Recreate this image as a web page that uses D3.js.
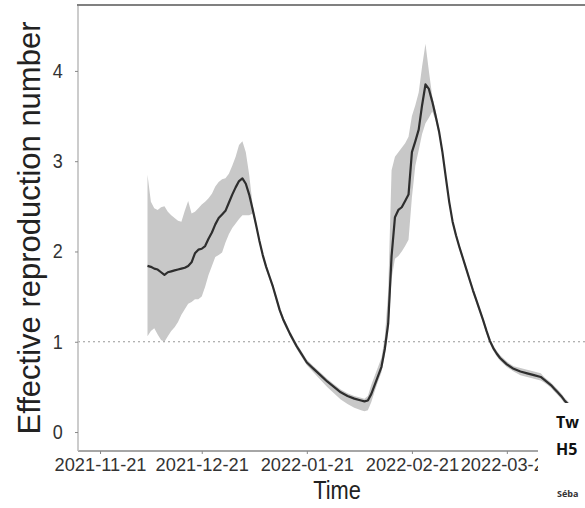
<!DOCTYPE html>
<html>
<head>
<meta charset="utf-8">
<script src="https://cdn.jsdelivr.net/npm/d3@7"></script>
<style>
  body { margin: 0; background: #fff; }
  svg { display: block; font-family: "Liberation Sans", Arial, sans-serif; }
</style>
</head>
<body>
<div id="chart"></div>
<script>

// Effective reproduction number over time
var dates = [
  "2021-12-05","2021-12-06","2021-12-07","2021-12-08","2021-12-09","2021-12-10","2021-12-11","2021-12-12",
  "2021-12-13","2021-12-14","2021-12-15","2021-12-16","2021-12-17","2021-12-18","2021-12-19","2021-12-20",
  "2021-12-21","2021-12-22","2021-12-23","2021-12-24","2021-12-25","2021-12-26","2021-12-27","2021-12-28",
  "2021-12-29","2021-12-30","2021-12-31","2022-01-01","2022-01-02","2022-01-03","2022-01-04","2022-01-05",
  "2022-01-06","2022-01-07","2022-01-08","2022-01-09","2022-01-10","2022-01-11","2022-01-12","2022-01-13",
  "2022-01-14","2022-01-15","2022-01-16","2022-01-17","2022-01-18","2022-01-19","2022-01-21","2022-01-23",
  "2022-01-25","2022-01-27","2022-01-29","2022-01-31","2022-02-02","2022-02-04","2022-02-06","2022-02-07",
  "2022-02-08","2022-02-09","2022-02-10","2022-02-11","2022-02-12","2022-02-13","2022-02-14","2022-02-15",
  "2022-02-16","2022-02-17","2022-02-18","2022-02-19","2022-02-20","2022-02-21","2022-02-22","2022-02-23",
  "2022-02-24","2022-02-25","2022-02-26","2022-02-27","2022-02-28","2022-03-01","2022-03-02","2022-03-03",
  "2022-03-04","2022-03-05","2022-03-06","2022-03-07","2022-03-08","2022-03-09","2022-03-10","2022-03-11",
  "2022-03-12","2022-03-13","2022-03-14","2022-03-15","2022-03-16","2022-03-17","2022-03-18","2022-03-19",
  "2022-03-21","2022-03-23","2022-03-25","2022-03-27","2022-03-29","2022-03-31","2022-04-01","2022-04-02",
  "2022-04-03","2022-04-04","2022-04-05","2022-04-06","2022-04-07","2022-04-08","2022-04-09","2022-04-10"
];

var rt = [
  1.84,1.83,1.81,1.80,1.77,1.74,1.77,1.78,
  1.79,1.80,1.81,1.82,1.84,1.88,1.98,2.02,
  2.03,2.06,2.14,2.21,2.30,2.37,2.41,2.45,
  2.54,2.63,2.71,2.78,2.81,2.75,2.63,2.47,
  2.30,2.12,1.96,1.83,1.72,1.61,1.48,1.35,
  1.25,1.17,1.09,1.02,0.95,0.89,0.77,0.70,
  0.63,0.56,0.50,0.44,0.40,0.37,0.35,0.34,
  0.35,0.42,0.52,0.62,0.72,0.92,1.20,1.95,
  2.38,2.46,2.49,2.56,2.63,3.10,3.22,3.35,
  3.62,3.85,3.80,3.66,3.50,3.33,3.10,2.82,
  2.55,2.33,2.18,2.05,1.93,1.81,1.69,1.57,
  1.46,1.35,1.24,1.12,1.01,0.93,0.87,0.82,
  0.75,0.70,0.67,0.65,0.63,0.61,0.58,0.55,
  0.52,0.48,0.44,0.40,0.35,0.31,0.27,0.23
];

var lower = [
  1.06,1.12,1.15,1.08,1.02,1.00,1.06,1.12,
  1.16,1.22,1.30,1.36,1.42,1.44,1.47,1.47,
  1.50,1.61,1.74,1.84,1.94,1.96,1.99,2.10,
  2.19,2.26,2.31,2.36,2.40,2.40,2.40,2.42,
  2.27,2.09,1.93,1.80,1.69,1.58,1.45,1.32,
  1.22,1.14,1.06,0.99,0.92,0.86,0.74,0.66,
  0.58,0.50,0.43,0.36,0.31,0.27,0.24,0.23,
  0.24,0.33,0.45,0.56,0.66,0.85,1.10,1.70,
  1.92,1.95,2.00,2.06,2.13,2.60,2.95,3.12,
  3.30,3.42,3.48,3.55,3.45,3.29,3.07,2.79,
  2.52,2.30,2.15,2.02,1.90,1.78,1.66,1.54,
  1.43,1.32,1.21,1.09,0.98,0.90,0.84,0.79,
  0.72,0.67,0.63,0.61,0.59,0.57,0.55,0.52,
  0.49,0.45,0.41,0.37,0.32,0.28,0.24,0.20
];

var upper = [
  2.85,2.55,2.48,2.46,2.49,2.50,2.44,2.40,
  2.37,2.34,2.33,2.45,2.56,2.42,2.44,2.48,
  2.52,2.55,2.59,2.64,2.72,2.77,2.80,2.81,
  2.86,2.95,3.05,3.18,3.22,3.10,2.85,2.52,
  2.33,2.15,1.99,1.86,1.75,1.64,1.51,1.38,
  1.28,1.20,1.12,1.05,0.98,0.92,0.80,0.73,
  0.66,0.59,0.53,0.47,0.43,0.40,0.38,0.37,
  0.40,0.52,0.62,0.72,0.82,1.05,1.55,2.90,
  3.05,3.10,3.15,3.20,3.27,3.50,3.62,3.76,
  4.05,4.30,4.00,3.72,3.56,3.37,3.13,2.85,
  2.58,2.36,2.21,2.08,1.96,1.84,1.72,1.60,
  1.49,1.38,1.27,1.15,1.04,0.96,0.90,0.85,
  0.78,0.73,0.71,0.69,0.67,0.65,0.61,0.58,
  0.55,0.51,0.47,0.43,0.38,0.34,0.30,0.26
];

// Axis ticks
var xTicks = ["2021-11-21", "2021-12-21", "2022-01-21", "2022-02-21", "2022-03-21"];
var yTicks = [0, 1, 2, 3, 4];

var width = 585, height = 508;
var parse = d3.utcParse("%Y-%m-%d");

var svg = d3.select("#chart").append("svg")
  .attr("width", width)
  .attr("height", height);

// Scales (one day is about 3.39 px in the picture)
var x = d3.scaleUtc()
  .domain([parse("2021-11-14"), parse("2022-04-15")])
  .range([78 - 0.5 * 3.39, 78 - 0.5 * 3.39 + 152 * 3.39]);

var y = d3.scaleLinear()
  .domain([-0.21, 4.73])
  .range([451, 5]);

var rows = dates.map(function (d, i) {
  return {date: parse(d), r: rt[i], lo: lower[i], hi: upper[i]};
});

// Confidence ribbon
svg.append("path")
  .datum(rows)
  .attr("fill", "#c8c8c8")
  .attr("d", d3.area()
    .x(function (d) { return x(d.date); })
    .y0(function (d) { return y(d.lo); })
    .y1(function (d) { return y(d.hi); }));

// Reference line at R = 1
svg.append("line")
  .attr("x1", 78).attr("x2", width)
  .attr("y1", y(1)).attr("y2", y(1))
  .attr("stroke", "#999")
  .attr("stroke-width", 1.2)
  .attr("stroke-dasharray", "2,3");

// Estimate line
svg.append("path")
  .datum(rows)
  .attr("fill", "none")
  .attr("stroke", "#2e2e2e")
  .attr("stroke-width", 2.2)
  .attr("stroke-linejoin", "round")
  .attr("d", d3.line()
    .x(function (d) { return x(d.date); })
    .y(function (d) { return y(d.r); }));

// Axes
var xAxis = svg.append("g")
  .attr("transform", "translate(0,451)")
  .call(d3.axisBottom(x)
    .tickValues(xTicks.map(parse))
    .tickFormat(d3.utcFormat("%Y-%m-%d"))
    .tickSize(3)
    .tickPadding(4)
    .tickSizeOuter(0));
xAxis.select(".domain").attr("stroke", "#888").attr("stroke-width", 1.5)
  .attr("d", "M78,0H" + width);
xAxis.selectAll(".tick line").attr("stroke", "#888");
xAxis.selectAll(".tick text")
  .attr("font-size", 19)
  .attr("fill", "#333")
  .attr("transform", "scale(0.96,1)");

var yAxis = svg.append("g")
  .attr("transform", "translate(78,0)")
  .call(d3.axisLeft(y)
    .tickValues(yTicks)
    .tickFormat(d3.format("d"))
    .tickSize(3)
    .tickPadding(14)
    .tickSizeOuter(0));
yAxis.select(".domain").attr("stroke", "#bbb").attr("stroke-width", 1.5)
  .attr("d", "M0,5V451");
yAxis.selectAll(".tick line").attr("stroke", "#888");
yAxis.selectAll(".tick text")
  .attr("font-size", 20)
  .attr("fill", "#333")
  .attr("transform", "scale(0.9,1)");

// Top border of the panel
svg.append("line")
  .attr("x1", 77).attr("x2", width)
  .attr("y1", 5).attr("y2", 5)
  .attr("stroke", "#808080")
  .attr("stroke-width", 2);

// Axis titles
svg.append("text")
  .attr("transform", "translate(337,499) scale(0.84,1)")
  .attr("text-anchor", "middle")
  .attr("font-size", 26)
  .attr("fill", "#222")
  .text("Time");

svg.append("text")
  .attr("transform", "translate(40,228) rotate(-90)")
  .attr("text-anchor", "middle")
  .attr("font-size", 31)
  .attr("fill", "#222")
  .text("Effective reproduction number");

// Overlapping page fragment at bottom right
svg.append("rect")
  .attr("x", 538).attr("y", 403)
  .attr("width", width - 538).attr("height", height - 403)
  .attr("fill", "#fff");

svg.append("text")
  .attr("x", 556).attr("y", 428)
  .attr("font-family", "'Open Sans', sans-serif")
  .attr("font-weight", "bold")
  .attr("font-size", 16)
  .attr("fill", "#111")
  .text("Tw");

svg.append("text")
  .attr("x", 556).attr("y", 455)
  .attr("font-family", "'Open Sans', sans-serif")
  .attr("font-weight", "bold")
  .attr("font-size", 16)
  .attr("fill", "#111")
  .text("H5");

svg.append("text")
  .attr("x", 557).attr("y", 497)
  .attr("font-family", "'Open Sans', sans-serif")
  .attr("font-weight", "bold")
  .attr("font-size", 9)
  .attr("fill", "#333")
  .text("Séba");

</script>
</body>
</html>
